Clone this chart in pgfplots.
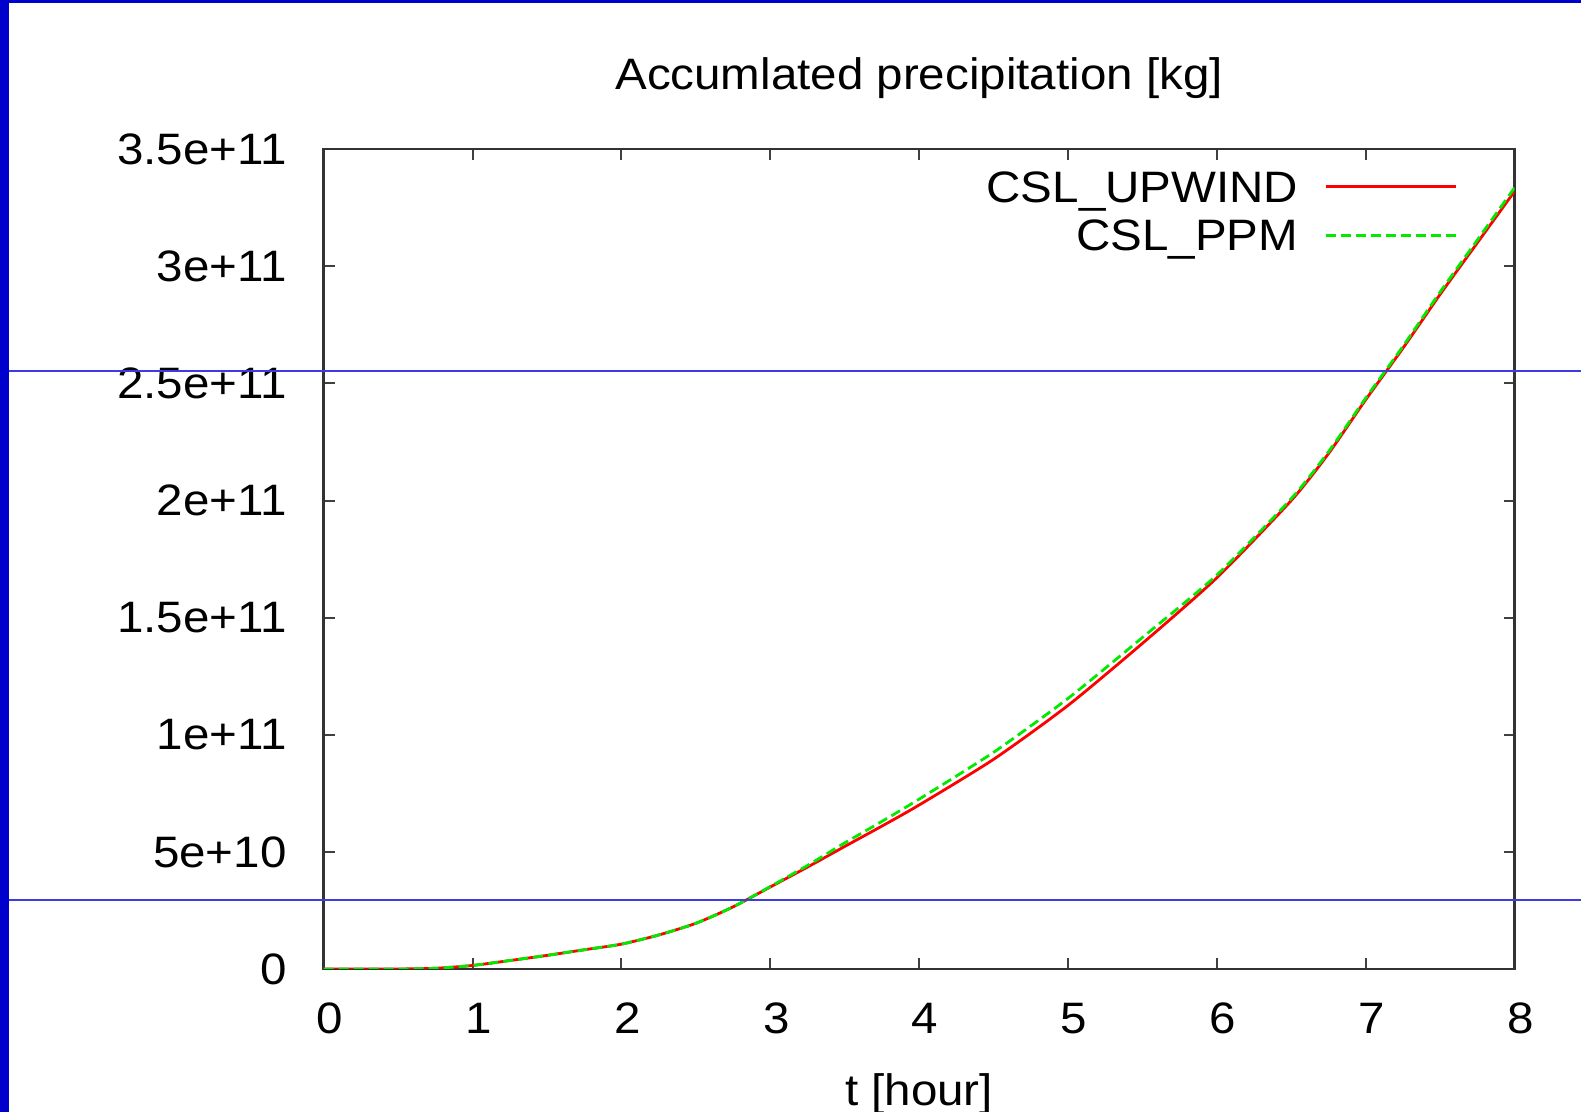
\documentclass[border=0pt]{standalone}
\usepackage{pgfplots}
\pgfplotsset{compat=1.18}
\usepackage{fontspec}
\setmainfont{Liberation Sans}[FakeStretch=1.08]
\definecolor{slideblue}{RGB}{0,0,204}
\definecolor{lineblue}{RGB}{60,60,225}
\definecolor{gpred}{RGB}{255,0,0}
\definecolor{gpgreen}{RGB}{0,235,0}
\newcommand\ff{\fontsize{22pt}{26pt}\selectfont}
\pgfplotstableread{
t y
0 0
0.25 0
0.5 0
0.75 0.3e9
1.0 1.5e9
1.25 3.6e9
1.5 5.8e9
1.75 8.2e9
2.0 10.6e9
2.25 14.5e9
2.5 19.5e9
2.75 26.5e9
3.0 35e9
3.25 43.5e9
3.5 52.3e9
3.75 61e9
4.0 70e9
4.5 89.5e9
5.0 112.5e9
5.5 139e9
6.0 167e9
6.5 200e9
6.75 220e9
7.0 243e9
7.25 265e9
7.5 288e9
7.75 310e9
8.0 332e9
}\upwind
\pgfplotstableread{
t y
0 0
0.25 0
0.5 0
0.75 0.3e9
1.0 1.5e9
1.25 3.6e9
1.5 5.8e9
1.75 8.2e9
2.0 10.6e9
2.25 14.5e9
2.5 19.5e9
2.75 26.5e9
3.0 35.2e9
3.25 44.2e9
3.5 53.8e9
3.75 63e9
4.0 72.5e9
4.5 92.5e9
5.0 115.5e9
5.5 141.5e9
6.0 168.2e9
6.5 200.8e9
6.75 220.8e9
7.0 243.7e9
7.25 265.8e9
7.5 289e9
7.75 311.2e9
8.0 333.5e9
}\ppm
\begin{document}
\ff
\begin{tikzpicture}
\fill[white] (0,0) rectangle (790.5pt,556pt);
\begin{axis}[
  at={(161.85pt,71.5pt)}, anchor=south west,
  width=595.4pt, height=409.9pt, scale only axis,
  xmin=0, xmax=8, ymin=0, ymax=3.5e11,
  xtick={0,1,2,3,4,5,6,7,8},
  ytick={0,0.5e11,1e11,1.5e11,2e11,2.5e11,3e11,3.5e11},
  yticklabels={0,5e+10,1e+11,1.5e+11,2e+11,2.5e+11,3e+11,3.5e+11},
  scaled y ticks=false,
  /pgf/number format/assume math mode=true,
  axis line style={black!80, line width=1.3pt},
  tick align=inside,
  major tick length=5.5pt,
  tick style={black!75, line width=1pt},
  tick label style={font=\ff},
  xticklabel style={anchor=base, inner sep=0pt, yshift=-32.5pt, xshift=3pt},
  yticklabel style={anchor=east, inner sep=0pt, xshift=-18.35pt},
  title={Accumlated precipitation [kg]},
  title style={font=\ff, at={(0.5,1)}, anchor=base, yshift=23.6pt, inner sep=0pt},
  xlabel={t [hour]},
  xlabel style={font=\ff, at={(0.5,0)}, anchor=base, yshift=-68.5pt, inner sep=0pt},
  legend cell align=right,
  legend plot pos=right,
  legend style={draw=none, fill=none, font=\ff, at={(1,1)}, anchor=north east,
    xshift=-28.75pt, yshift=-10.9pt, column sep=13pt, row sep=8.5pt,
    inner sep=0pt, outer sep=0pt,
    nodes={inner sep=0pt, text height=15.75pt, text depth=0pt}},
  legend image code/.code={\draw[#1] (0pt,0pt) -- (65pt,0pt);},
]
\addplot[gpred, line width=1.4pt, smooth, tension=0.4] table[x=t,y=y] {\upwind};
\addlegendentry{CSL\_UPWIND}
\addplot[gpgreen, line width=1.4pt, dash pattern=on 5pt off 2.5pt, smooth, tension=0.4] table[x=t,y=y] {\ppm};
\addlegendentry{CSL\_PPM}
\end{axis}
\fill[slideblue] (0,0) rectangle (4.25pt,556pt);
\fill[slideblue] (0,554.25pt) rectangle (790.5pt,556pt);
\draw[lineblue, line width=0.6pt] (4.25pt,370.5pt) -- (790.5pt,370.5pt);
\draw[lineblue, line width=0.6pt] (4.25pt,106pt) -- (790.5pt,106pt);
\pgfresetboundingbox
\useasboundingbox (0,0) rectangle (790.5pt,556pt);
\end{tikzpicture}
\end{document}
